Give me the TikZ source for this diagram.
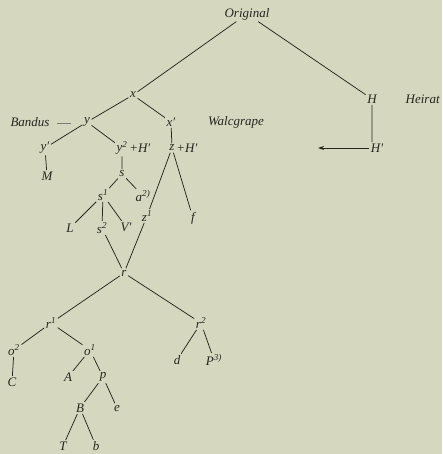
\documentclass[tikz,border=0pt]{standalone}
\usepackage{fontspec}
\setmainfont{Liberation Serif}
\usetikzlibrary{arrows.meta}
\definecolor{paper}{RGB}{213,215,191}
\definecolor{ink}{RGB}{38,38,32}
\newcommand{\sus}[1]{\textsuperscript{#1}}
\begin{document}
\begin{tikzpicture}[x=1pt,y=-1pt,
  lbl/.style={inner sep=1.5pt,text=ink,font=\fontsize{13}{15}\selectfont\itshape},
  edge/.style={draw=ink,line width=0.75pt}]
\fill[paper] (0,0) rectangle (442,454);
\useasboundingbox (0,0) rectangle (442,454);
\node[lbl] (orig) at (247,14) {Original};
\node[lbl] (x) at (133,95) {x};
\node[lbl] (H) at (372,99) {H};
\node[lbl,anchor=west] (heirat) at (404,99) {Heirat};
\node[lbl] (bandus) at (30,122) {Bandus};
\coordinate (d1) at (57,123);
\coordinate (d2) at (71,123);
\node[lbl] (y) at (87,122) {y};
\node[lbl] (xp) at (171,122) {x′};
\node[lbl] (walc) at (236,122) {Walcgrape};
\node[lbl] (yp) at (45,148) {y′};
\node[lbl] (y2) at (122,148) {y\sus{2}};
\node[lbl,anchor=west,inner xsep=0pt] (y2h) at (y2.east) {+H′};
\node[lbl] (z) at (172,148) {z};
\node[lbl,anchor=west,inner xsep=0pt] (zh) at (z.east) {+H′};
\node[lbl] (Hp) at (377,148) {H′};
\coordinate (arr) at (318,148);
\node[lbl] (M) at (47,176) {M};
\node[lbl] (s) at (122,174) {s};
\node[lbl] (a) at (143,196) {a\sus{2)}};
\node[lbl] (s1) at (103,195) {s\sus{1}};
\node[lbl] (L) at (70,228) {L};
\node[lbl] (s2) at (102,228) {s\sus{2}};
\node[lbl] (V) at (126,227) {V′};
\node[lbl] (z1) at (147,216) {z\sus{1}};
\node[lbl] (f) at (193,218) {f};
\node[lbl] (r) at (124,273) {r};
\node[lbl] (r1) at (51,323) {r\sus{1}};
\node[lbl] (r2) at (201,323) {r\sus{2}};
\node[lbl] (o2) at (14,350) {o\sus{2}};
\node[lbl] (o1) at (90,350) {o\sus{1}};
\node[lbl] (d) at (177,360) {d};
\node[lbl] (P) at (214,360) {P\sus{3)}};
\node[lbl] (C) at (12,382) {C};
\node[lbl] (A) at (68,377) {A};
\node[lbl] (p) at (103,377) {p};
\node[lbl] (B) at (80,408) {B};
\node[lbl] (e) at (117,408) {e};
\node[lbl] (T) at (63,446) {T};
\node[lbl] (b) at (96,446) {b};
\path[edge] (orig) -- (x) (orig) -- (H)
  (x) -- (y) (x) -- (xp)
  (xp) -- (z)
  (H) -- (H |- Hp.north)
  (yp) -- (M)
  (y) -- (yp) (y) -- (y2)
  (y2) -- (s)
  (s) -- (s1) (s) -- (a)
  (s1) -- (L) (s1) -- (s2) (s1) -- (V)
  (z) -- (z1) (z) -- (f)
  (z1) -- (r) (s2) -- (r)
  (r) -- (r1) (r) -- (r2)
  (r1) -- (o2) (r1) -- (o1)
  (r2) -- (d) (r2) -- (P)
  (o2) -- (C)
  (o1) -- (A) (o1) -- (p)
  (p) -- (B) (p) -- (e)
  (B) -- (T) (B) -- (b);
\draw[draw=ink!60,line width=0.6pt] (d1) -- (d2);
\draw[edge,-{Stealth[length=6pt,width=4pt]}] (Hp) -- (arr);
\end{tikzpicture}
\end{document}
